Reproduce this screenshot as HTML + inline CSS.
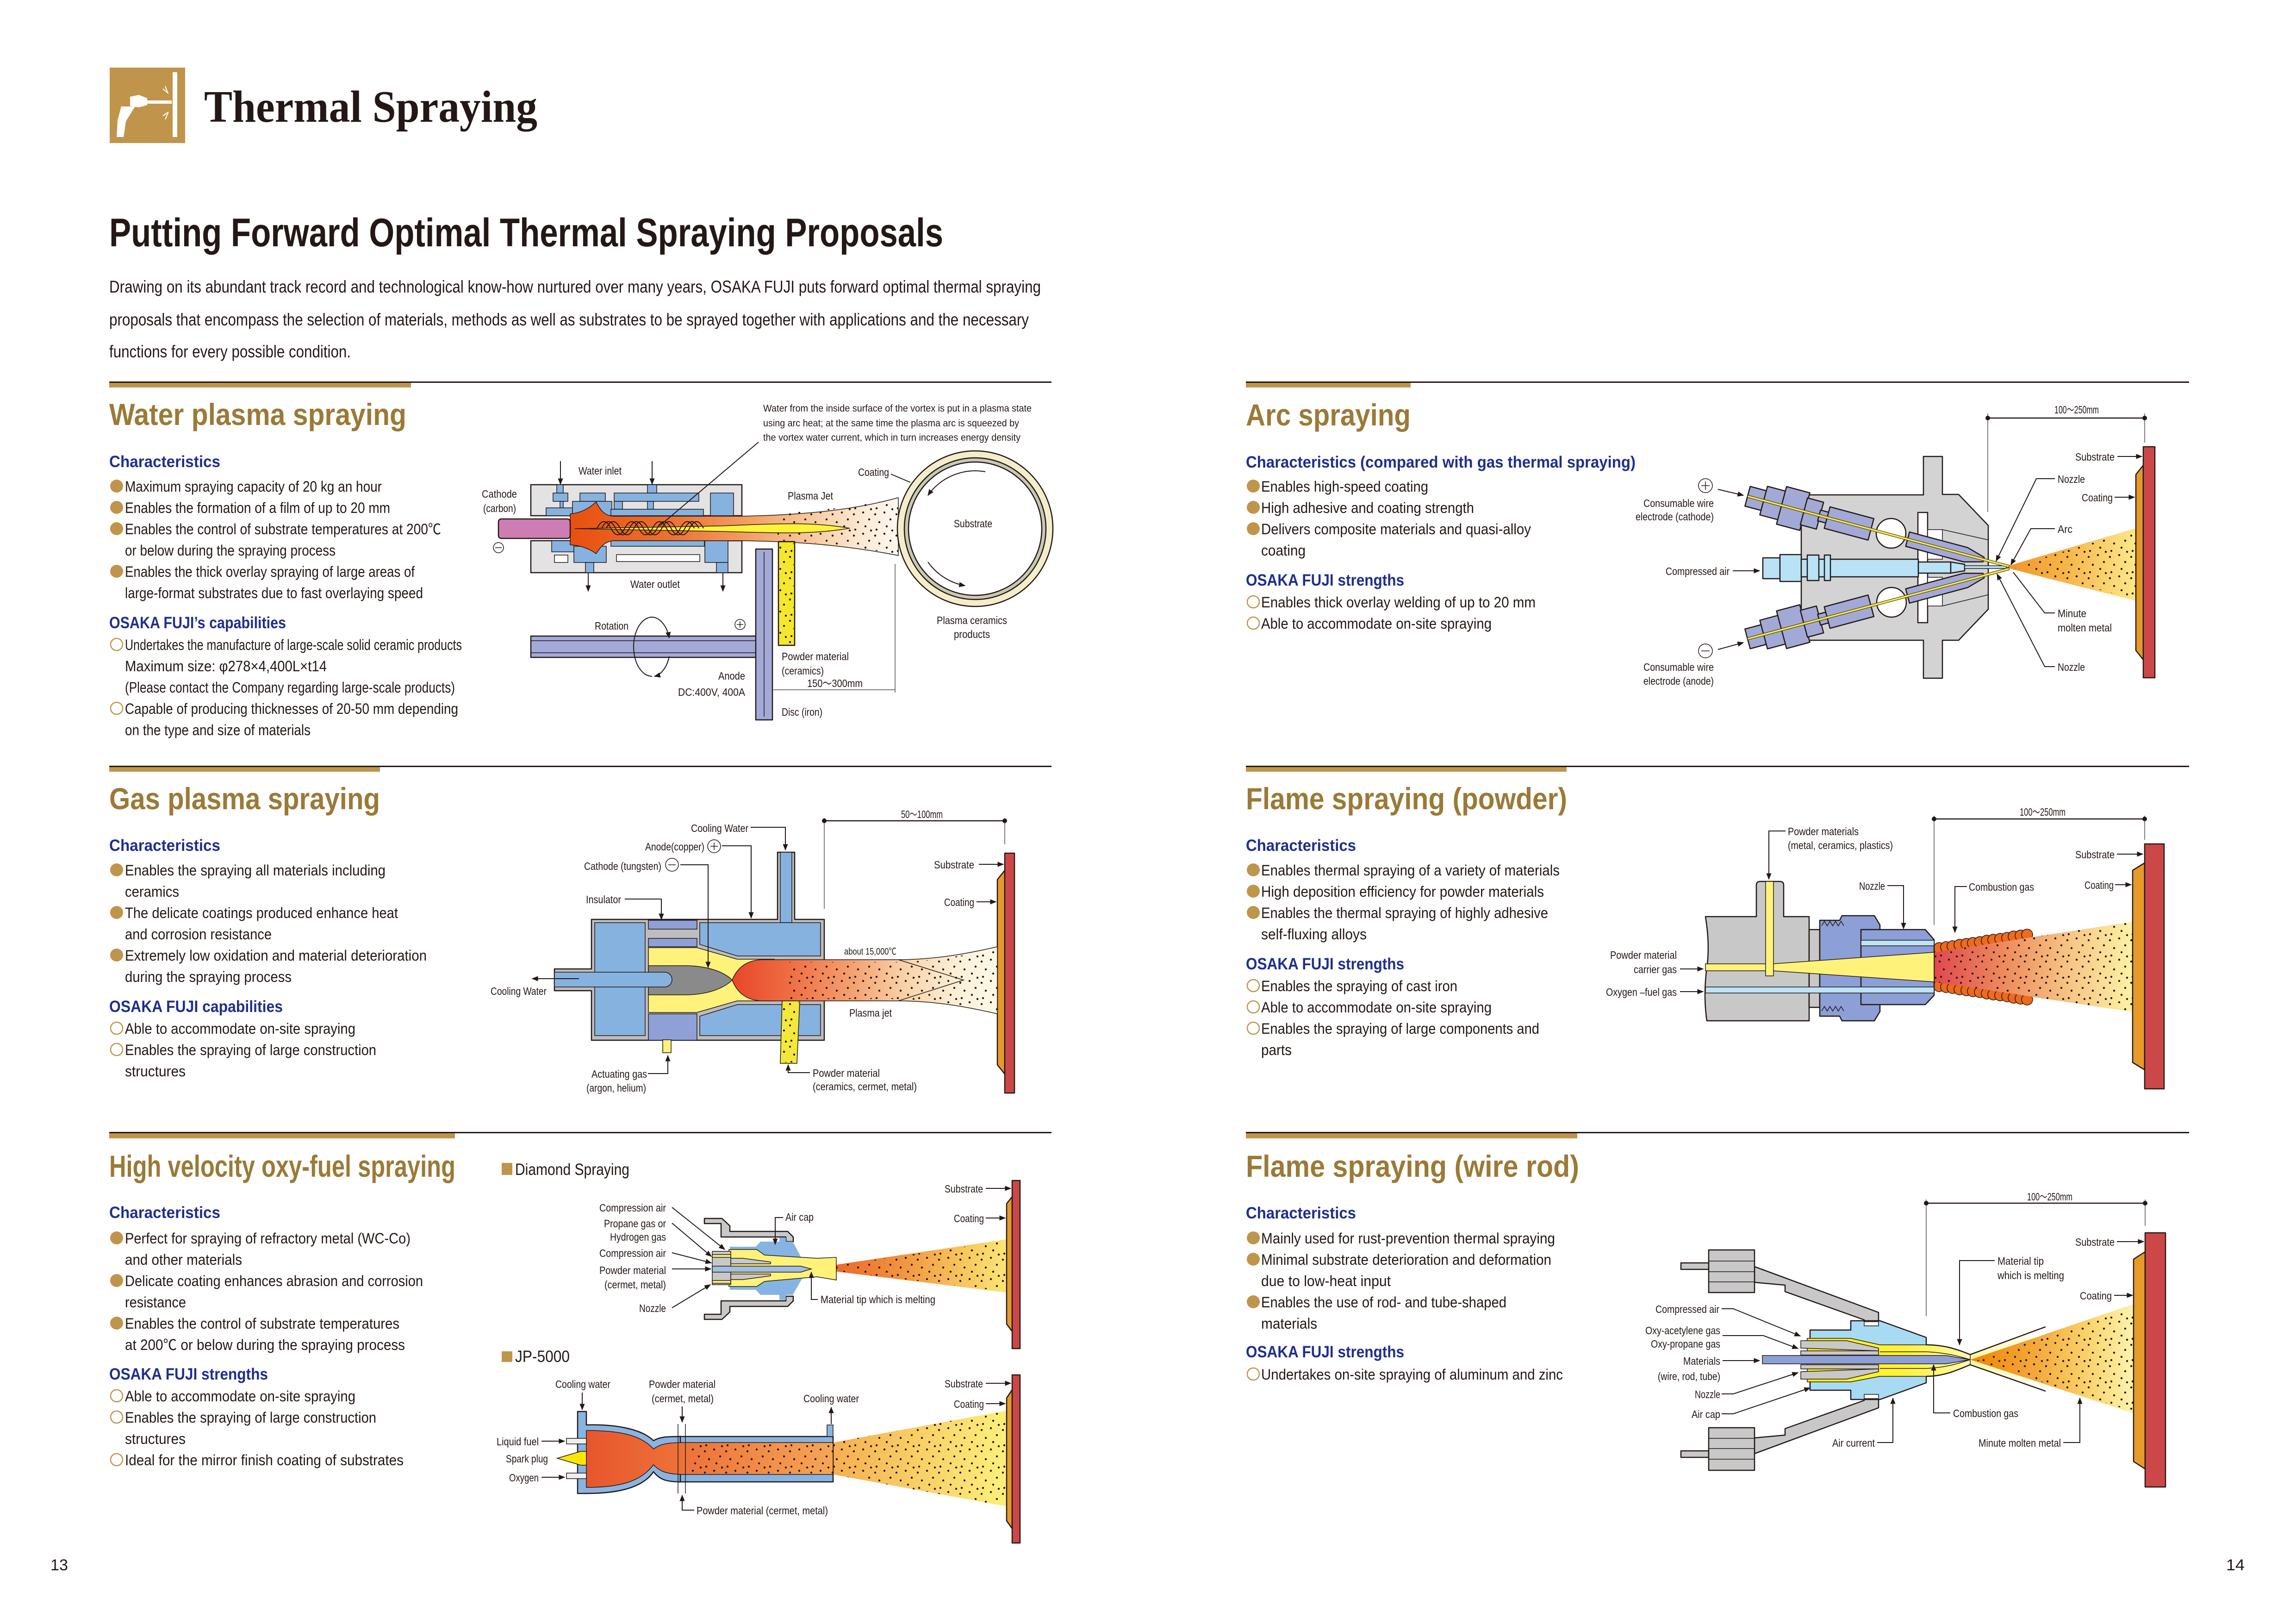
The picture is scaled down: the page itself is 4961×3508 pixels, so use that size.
<!DOCTYPE html>
<html><head><meta charset="utf-8"><style>
html,body{margin:0;padding:0;background:#fff;}
svg{display:block}
text{font-family:"Liberation Sans","Noto Sans CJK JP",sans-serif;fill:#231815}
.b{font-size:32px}
.h{font-size:66px;font-weight:bold;fill:#9b7a37}
.s{font-size:35px;font-weight:bold;fill:#1f2f8c}
.l{font-size:23px}
.ln{stroke:#231815;stroke-width:2;fill:none}
.dm{stroke:#555;stroke-width:1.5;fill:none}
.o{stroke:#231815;stroke-width:2.5;stroke-linejoin:round}
.t{stroke:#231815;stroke-width:1.5}
.fb{fill:#c0954b}
.hb{fill:none;stroke:#c0954b;stroke-width:2.5}
</style></head><body>
<svg width="4961" height="3508" viewBox="0 0 4961 3508" xmlns="http://www.w3.org/2000/svg">
<defs>
<marker id="a" viewBox="0 0 10 10" refX="9" refY="5" markerWidth="14" markerHeight="14" markerUnits="userSpaceOnUse" orient="auto"><path d="M0,1 L10,5 L0,9 z" fill="#231815"/></marker>
<pattern id="dt" width="46" height="46" patternUnits="userSpaceOnUse"><g fill="#231815"><circle cx="5" cy="7" r="2.2"/><circle cx="25" cy="3" r="2.2"/><circle cx="38" cy="18" r="2.2"/><circle cx="14" cy="24" r="2.2"/><circle cx="30" cy="33" r="2.2"/><circle cx="8" cy="40" r="2.2"/><circle cx="42" cy="42" r="2.2"/></g></pattern>
<linearGradient id="gWP" gradientUnits="userSpaceOnUse" x1="1232" y1="0" x2="1941" y2="0"><stop offset="0" stop-color="#e8500e"/><stop offset=".3" stop-color="#ec7030"/><stop offset=".55" stop-color="#f2a066"/><stop offset=".75" stop-color="#f8cda4"/><stop offset=".9" stop-color="#fdebd8"/><stop offset="1" stop-color="#fff8f0"/></linearGradient>
<linearGradient id="gGP" gradientUnits="userSpaceOnUse" x1="1582" y1="0" x2="2155" y2="0"><stop offset="0" stop-color="#e8462a"/><stop offset=".2" stop-color="#ee6a40"/><stop offset=".45" stop-color="#f4a070"/><stop offset=".65" stop-color="#f9d2a8"/><stop offset=".85" stop-color="#fdf0d8"/><stop offset="1" stop-color="#fdf8e8"/></linearGradient>
<linearGradient id="gArc" gradientUnits="userSpaceOnUse" x1="4330" y1="0" x2="4615" y2="0"><stop offset="0" stop-color="#f09328"/><stop offset=".45" stop-color="#f6b445"/><stop offset="1" stop-color="#fde88a"/></linearGradient>
<linearGradient id="gFP" gradientUnits="userSpaceOnUse" x1="4179" y1="0" x2="4608" y2="0"><stop offset="0" stop-color="#e04850"/><stop offset=".35" stop-color="#ee8a5c"/><stop offset=".65" stop-color="#f6c080"/><stop offset="1" stop-color="#fdf2a6"/></linearGradient>
<linearGradient id="gDia" gradientUnits="userSpaceOnUse" x1="1753" y1="0" x2="2175" y2="0"><stop offset="0" stop-color="#ea5a26"/><stop offset=".4" stop-color="#f08a3a"/><stop offset=".75" stop-color="#f7c25a"/><stop offset="1" stop-color="#fbe676"/></linearGradient>
<linearGradient id="gJPb" gradientUnits="userSpaceOnUse" x1="1267" y1="0" x2="1800" y2="0"><stop offset="0" stop-color="#e8562c"/><stop offset=".5" stop-color="#ee7a3e"/><stop offset="1" stop-color="#f5a656"/></linearGradient>
<linearGradient id="gJPc" gradientUnits="userSpaceOnUse" x1="1800" y1="0" x2="2175" y2="0"><stop offset="0" stop-color="#f6ae52"/><stop offset=".5" stop-color="#f9d066"/><stop offset="1" stop-color="#fdf07c"/></linearGradient>
<linearGradient id="gWR" gradientUnits="userSpaceOnUse" x1="4257" y1="0" x2="4610" y2="0"><stop offset="0" stop-color="#ef8400"/><stop offset=".4" stop-color="#f4a83a"/><stop offset=".75" stop-color="#fad770"/><stop offset="1" stop-color="#fdf3b0"/></linearGradient>
<linearGradient id="gWY" gradientUnits="userSpaceOnUse" x1="3905" y1="0" x2="4257" y2="0"><stop offset="0" stop-color="#fff200"/><stop offset=".6" stop-color="#fff23a"/><stop offset="1" stop-color="#fff8b0"/></linearGradient>
<linearGradient id="gPale" gradientUnits="userSpaceOnUse" x1="4257" y1="0" x2="4420" y2="0"><stop offset="0" stop-color="#fff6a0"/><stop offset="1" stop-color="#ffffff"/></linearGradient>
</defs>

<!-- HEADER -->
<rect x="237" y="146" width="163" height="163" fill="#c0954b"/>
<rect x="373" y="156" width="10" height="140" fill="#fff"/>
<polygon points="281,209 300,205 318,212 318,227 300,232 281,229" fill="#fff"/>
<rect x="318" y="217" width="53" height="7" fill="#fff"/>
<polygon points="262,230 292,230 272,262 267,296 252,296 254,260" fill="#fff"/>
<path d="M352,192 l12,10 M357,186 l6,16 M352,250 l12,-8 M357,258 l6,-14" stroke="#fff" stroke-width="2"/>
<text x="441" y="263" style="font-family:'Liberation Serif',serif;font-weight:bold;font-size:98px" textLength="720" lengthAdjust="spacingAndGlyphs">Thermal Spraying</text>
<text x="236" y="532" style="font-size:86px;font-weight:bold" textLength="1802" lengthAdjust="spacingAndGlyphs">Putting Forward Optimal Thermal Spraying Proposals</text>
<text x="236" y="632" style="font-size:37px" textLength="2013" lengthAdjust="spacingAndGlyphs">Drawing on its abundant track record and technological know-how nurtured over many years, OSAKA FUJI puts forward optimal thermal spraying</text>
<text x="236" y="703" style="font-size:37px" textLength="1987" lengthAdjust="spacingAndGlyphs">proposals that encompass the selection of materials, methods as well as substrates to be sprayed together with applications and the necessary</text>
<text x="236" y="772" style="font-size:37px" textLength="522" lengthAdjust="spacingAndGlyphs">functions for every possible condition.</text>

<!-- SECTION RULES -->
<rect x="236" y="824" width="2036" height="3" fill="#231815"/><rect x="236" y="827" width="652" height="10" fill="#c0954b"/>
<rect x="2692" y="824" width="2038" height="3" fill="#231815"/><rect x="2692" y="827" width="356" height="10" fill="#c0954b"/>
<rect x="236" y="1654" width="2036" height="3" fill="#231815"/><rect x="236" y="1657" width="585" height="10" fill="#c0954b"/>
<rect x="2692" y="1654" width="2038" height="3" fill="#231815"/><rect x="2692" y="1657" width="693" height="10" fill="#c0954b"/>
<rect x="236" y="2445" width="2036" height="3" fill="#231815"/><rect x="236" y="2448" width="747" height="11" fill="#c0954b"/>
<rect x="2692" y="2445" width="2038" height="3" fill="#231815"/><rect x="2692" y="2448" width="716" height="11" fill="#c0954b"/>

<!-- HEADINGS -->
<text class="h" x="236" y="918" textLength="642" lengthAdjust="spacingAndGlyphs">Water plasma spraying</text>
<text class="h" x="2692" y="919" textLength="356" lengthAdjust="spacingAndGlyphs">Arc spraying</text>
<text class="h" x="236" y="1748" textLength="585" lengthAdjust="spacingAndGlyphs">Gas plasma spraying</text>
<text class="h" x="2692" y="1748" textLength="694" lengthAdjust="spacingAndGlyphs">Flame spraying (powder)</text>
<text class="h" x="236" y="2542" textLength="748" lengthAdjust="spacingAndGlyphs">High velocity oxy-fuel spraying</text>
<text class="h" x="2692" y="2542" textLength="720" lengthAdjust="spacingAndGlyphs">Flame spraying (wire rod)</text>

<!-- WATER PLASMA TEXT -->
<text class="s" x="236" y="1009" textLength="240" lengthAdjust="spacingAndGlyphs">Characteristics</text>
<circle class="fb" cx="252" cy="1050" r="14"/><text class="b" x="270" y="1062" textLength="555" lengthAdjust="spacingAndGlyphs">Maximum spraying capacity of 20 kg an hour</text>
<circle class="fb" cx="252" cy="1096" r="14"/><text class="b" x="270" y="1108" textLength="573" lengthAdjust="spacingAndGlyphs">Enables the formation of a film of up to 20 mm</text>
<circle class="fb" cx="252" cy="1142" r="14"/><text class="b" x="270" y="1154" textLength="683" lengthAdjust="spacingAndGlyphs">Enables the control of substrate temperatures at 200℃</text>
<text class="b" x="270" y="1200" textLength="455" lengthAdjust="spacingAndGlyphs">or below during the spraying process</text>
<circle class="fb" cx="252" cy="1234" r="14"/><text class="b" x="270" y="1246" textLength="626" lengthAdjust="spacingAndGlyphs">Enables the thick overlay spraying of large areas of</text>
<text class="b" x="270" y="1292" textLength="644" lengthAdjust="spacingAndGlyphs">large-format substrates due to fast overlaying speed</text>
<text class="s" x="236" y="1357" textLength="382" lengthAdjust="spacingAndGlyphs">OSAKA FUJI’s capabilities</text>
<circle class="hb" cx="252" cy="1392" r="13"/><text class="b" x="270" y="1404" textLength="728" lengthAdjust="spacingAndGlyphs">Undertakes the manufacture of large-scale solid ceramic products</text>
<text class="b" x="270" y="1450" textLength="436" lengthAdjust="spacingAndGlyphs">Maximum size: φ278×4,400L×t14</text>
<text class="b" x="270" y="1496" textLength="713" lengthAdjust="spacingAndGlyphs">(Please contact the Company regarding large-scale products)</text>
<circle class="hb" cx="252" cy="1530" r="13"/><text class="b" x="270" y="1542" textLength="720" lengthAdjust="spacingAndGlyphs">Capable of producing thicknesses of 20-50 mm depending</text>
<text class="b" x="270" y="1588" textLength="401" lengthAdjust="spacingAndGlyphs">on the type and size of materials</text>

<!-- GAS PLASMA TEXT -->
<text class="s" x="236" y="1838" textLength="240" lengthAdjust="spacingAndGlyphs">Characteristics</text>
<circle class="fb" cx="252" cy="1879" r="14"/><text class="b" x="270" y="1891" textLength="563" lengthAdjust="spacingAndGlyphs">Enables the spraying all materials including</text>
<text class="b" x="270" y="1937" textLength="117" lengthAdjust="spacingAndGlyphs">ceramics</text>
<circle class="fb" cx="252" cy="1971" r="14"/><text class="b" x="270" y="1983" textLength="590" lengthAdjust="spacingAndGlyphs">The delicate coatings produced enhance heat</text>
<text class="b" x="270" y="2029" textLength="317" lengthAdjust="spacingAndGlyphs">and corrosion resistance</text>
<circle class="fb" cx="252" cy="2063" r="14"/><text class="b" x="270" y="2075" textLength="652" lengthAdjust="spacingAndGlyphs">Extremely low oxidation and material deterioration</text>
<text class="b" x="270" y="2121" textLength="360" lengthAdjust="spacingAndGlyphs">during the spraying process</text>
<text class="s" x="236" y="2186" textLength="375" lengthAdjust="spacingAndGlyphs">OSAKA FUJI capabilities</text>
<circle class="hb" cx="252" cy="2221" r="13"/><text class="b" x="270" y="2233" textLength="498" lengthAdjust="spacingAndGlyphs">Able to accommodate on-site spraying</text>
<circle class="hb" cx="252" cy="2267" r="13"/><text class="b" x="270" y="2279" textLength="543" lengthAdjust="spacingAndGlyphs">Enables the spraying of large construction</text>
<text class="b" x="270" y="2325" textLength="131" lengthAdjust="spacingAndGlyphs">structures</text>

<!-- HVOF TEXT -->
<text class="s" x="236" y="2631" textLength="240" lengthAdjust="spacingAndGlyphs">Characteristics</text>
<circle class="fb" cx="252" cy="2674" r="14"/><text class="b" x="270" y="2686" textLength="617" lengthAdjust="spacingAndGlyphs">Perfect for spraying of refractory metal (WC-Co)</text>
<text class="b" x="270" y="2732" textLength="253" lengthAdjust="spacingAndGlyphs">and other materials</text>
<circle class="fb" cx="252" cy="2766" r="14"/><text class="b" x="270" y="2778" textLength="644" lengthAdjust="spacingAndGlyphs">Delicate coating enhances abrasion and corrosion</text>
<text class="b" x="270" y="2824" textLength="132" lengthAdjust="spacingAndGlyphs">resistance</text>
<circle class="fb" cx="252" cy="2858" r="14"/><text class="b" x="270" y="2870" textLength="593" lengthAdjust="spacingAndGlyphs">Enables the control of substrate temperatures</text>
<text class="b" x="270" y="2916" textLength="605" lengthAdjust="spacingAndGlyphs">at 200℃ or below during the spraying process</text>
<text class="s" x="236" y="2980" textLength="343" lengthAdjust="spacingAndGlyphs">OSAKA FUJI strengths</text>
<circle class="hb" cx="252" cy="3015" r="13"/><text class="b" x="270" y="3027" textLength="498" lengthAdjust="spacingAndGlyphs">Able to accommodate on-site spraying</text>
<circle class="hb" cx="252" cy="3061" r="13"/><text class="b" x="270" y="3073" textLength="543" lengthAdjust="spacingAndGlyphs">Enables the spraying of large construction</text>
<text class="b" x="270" y="3119" textLength="131" lengthAdjust="spacingAndGlyphs">structures</text>
<circle class="hb" cx="252" cy="3153" r="13"/><text class="b" x="270" y="3165" textLength="602" lengthAdjust="spacingAndGlyphs">Ideal for the mirror finish coating of substrates</text>

<!-- ARC TEXT -->
<text class="s" x="2692" y="1010" textLength="842" lengthAdjust="spacingAndGlyphs">Characteristics (compared with gas thermal spraying)</text>
<circle class="fb" cx="2708" cy="1050" r="14"/><text class="b" x="2725" y="1062" textLength="361" lengthAdjust="spacingAndGlyphs">Enables high-speed coating</text>
<circle class="fb" cx="2708" cy="1096" r="14"/><text class="b" x="2725" y="1108" textLength="460" lengthAdjust="spacingAndGlyphs">High adhesive and coating strength</text>
<circle class="fb" cx="2708" cy="1142" r="14"/><text class="b" x="2725" y="1154" textLength="583" lengthAdjust="spacingAndGlyphs">Delivers composite materials and quasi-alloy</text>
<text class="b" x="2725" y="1200" textLength="96" lengthAdjust="spacingAndGlyphs">coating</text>
<text class="s" x="2692" y="1265" textLength="342" lengthAdjust="spacingAndGlyphs">OSAKA FUJI strengths</text>
<circle class="hb" cx="2708" cy="1300" r="13"/><text class="b" x="2725" y="1312" textLength="593" lengthAdjust="spacingAndGlyphs">Enables thick overlay welding of up to 20 mm</text>
<circle class="hb" cx="2708" cy="1346" r="13"/><text class="b" x="2725" y="1358" textLength="498" lengthAdjust="spacingAndGlyphs">Able to accommodate on-site spraying</text>

<!-- FLAME POWDER TEXT -->
<text class="s" x="2692" y="1838" textLength="238" lengthAdjust="spacingAndGlyphs">Characteristics</text>
<circle class="fb" cx="2708" cy="1879" r="14"/><text class="b" x="2725" y="1891" textLength="645" lengthAdjust="spacingAndGlyphs">Enables thermal spraying of a variety of materials</text>
<circle class="fb" cx="2708" cy="1925" r="14"/><text class="b" x="2725" y="1937" textLength="611" lengthAdjust="spacingAndGlyphs">High deposition efficiency for powder materials</text>
<circle class="fb" cx="2708" cy="1971" r="14"/><text class="b" x="2725" y="1983" textLength="620" lengthAdjust="spacingAndGlyphs">Enables the thermal spraying of highly adhesive</text>
<text class="b" x="2725" y="2029" textLength="228" lengthAdjust="spacingAndGlyphs">self-fluxing alloys</text>
<text class="s" x="2692" y="2094" textLength="342" lengthAdjust="spacingAndGlyphs">OSAKA FUJI strengths</text>
<circle class="hb" cx="2708" cy="2129" r="13"/><text class="b" x="2725" y="2141" textLength="424" lengthAdjust="spacingAndGlyphs">Enables the spraying of cast iron</text>
<circle class="hb" cx="2708" cy="2175" r="13"/><text class="b" x="2725" y="2187" textLength="498" lengthAdjust="spacingAndGlyphs">Able to accommodate on-site spraying</text>
<circle class="hb" cx="2708" cy="2221" r="13"/><text class="b" x="2725" y="2233" textLength="601" lengthAdjust="spacingAndGlyphs">Enables the spraying of large components and</text>
<text class="b" x="2725" y="2279" textLength="66" lengthAdjust="spacingAndGlyphs">parts</text>

<!-- FLAME WIRE TEXT -->
<text class="s" x="2692" y="2632" textLength="238" lengthAdjust="spacingAndGlyphs">Characteristics</text>
<circle class="fb" cx="2708" cy="2674" r="14"/><text class="b" x="2725" y="2686" textLength="635" lengthAdjust="spacingAndGlyphs">Mainly used for rust-prevention thermal spraying</text>
<circle class="fb" cx="2708" cy="2720" r="14"/><text class="b" x="2725" y="2732" textLength="627" lengthAdjust="spacingAndGlyphs">Minimal substrate deterioration and deformation</text>
<text class="b" x="2725" y="2778" textLength="280" lengthAdjust="spacingAndGlyphs">due to low-heat input</text>
<circle class="fb" cx="2708" cy="2812" r="14"/><text class="b" x="2725" y="2824" textLength="530" lengthAdjust="spacingAndGlyphs">Enables the use of rod- and tube-shaped</text>
<text class="b" x="2725" y="2870" textLength="121" lengthAdjust="spacingAndGlyphs">materials</text>
<text class="s" x="2692" y="2932" textLength="342" lengthAdjust="spacingAndGlyphs">OSAKA FUJI strengths</text>
<circle class="hb" cx="2708" cy="2968" r="13"/><text class="b" x="2725" y="2980" textLength="652" lengthAdjust="spacingAndGlyphs">Undertakes on-site spraying of aluminum and zinc</text>

<!-- ================= WATER PLASMA DIAGRAM ================= -->
<g class="o"><rect x="1147" y="1047" width="456" height="67" fill="#e3e3e3"/><rect x="1147" y="1168" width="456" height="69" fill="#e3e3e3"/></g>
<g class="t" fill="#86b2df">
<rect x="1203" y="1047" width="14" height="18"/><rect x="1195" y="1065" width="32" height="18"/><rect x="1210" y="1083" width="7" height="14"/><rect x="1180" y="1097" width="57" height="17"/>
<rect x="1253" y="1065" width="55" height="18"/><rect x="1237" y="1083" width="85" height="31"/><rect x="1327" y="1065" width="183" height="18"/>
<rect x="1399" y="1047" width="20" height="18"/><rect x="1399" y="1083" width="13" height="17"/><rect x="1327" y="1083" width="18" height="17"/>
<rect x="1320" y="1100" width="200" height="14"/><rect x="1535" y="1065" width="50" height="49"/>
<rect x="1192" y="1168" width="48" height="24"/><rect x="1240" y="1180" width="70" height="35"/><rect x="1265" y="1215" width="18" height="22"/>
<rect x="1320" y="1168" width="202" height="12"/><rect x="1523" y="1168" width="50" height="47"/><rect x="1548" y="1215" width="25" height="22"/>
</g>
<rect class="t" x="1332" y="1198" width="180" height="15" fill="#fff"/><rect class="t" x="1198" y="1199" width="29" height="16" fill="#fff"/>
<path d="M1232,1110 C1260,1108 1280,1092 1288,1084 C1296,1100 1305,1114 1325,1115 L1603,1115 C1750,1112 1850,1100 1941,1075 L1941,1200 C1850,1182 1750,1170 1603,1168 L1325,1168 C1305,1170 1296,1184 1288,1196 C1280,1190 1260,1178 1232,1177 Z" fill="url(#gWP)" class="t"/>
<path d="M1680,1110 C1800,1100 1880,1090 1941,1075 L1941,1200 C1880,1185 1800,1172 1680,1168 Z" fill="url(#dt)"/>
<rect class="o" x="1682" y="1170" width="35" height="224" fill="#f5e82a"/>
<rect x="1684" y="1172" width="31" height="220" fill="url(#dt)"/>
<rect class="o" x="1077" y="1121" width="155" height="42" rx="6" fill="#cd7db4"/>
<path d="M1242,1142 L1560,1136 C1700,1130 1760,1128 1836,1141 C1760,1154 1700,1152 1560,1148 Z" fill="#fff23a" class="t"/>
<g fill="none" stroke="#231815" stroke-width="2">
<path d="M1290,1141 C1300,1122 1310,1122 1320,1141 S1340,1160 1350,1141 S1370,1122 1380,1141 S1400,1160 1410,1141 S1430,1122 1440,1141 S1460,1160 1470,1141 S1490,1122 1500,1141"/>
<path transform="translate(10,0)" d="M1290,1141 C1300,1122 1310,1122 1320,1141 S1340,1160 1350,1141 S1370,1122 1380,1141 S1400,1160 1410,1141 S1430,1122 1440,1141 S1460,1160 1470,1141 S1490,1122 1500,1141"/>
<path transform="translate(20,0)" d="M1290,1141 C1300,1122 1310,1122 1320,1141 S1340,1160 1350,1141 S1370,1122 1380,1141 S1400,1160 1410,1141 S1430,1122 1440,1141 S1460,1160 1470,1141 S1490,1122 1500,1141"/>
</g>
<circle class="o" cx="2107" cy="1142" r="168" fill="#f3edc9"/>
<circle class="o" cx="2107" cy="1142" r="153" fill="#c9c7b6"/>
<circle class="o" cx="2107" cy="1142" r="144" fill="#fff"/>
<path class="ln" d="M2129,1019 A125,125 0 0 0 2005,1070" marker-end="url(#a)"/>
<path class="ln" d="M2005,1214 A125,125 0 0 0 2085,1265" marker-end="url(#a)"/>
<rect class="o" x="1147" y="1374" width="493" height="46" fill="#a3aad8"/>
<path class="t" d="M1147,1384 L1640,1384 M1147,1410 L1640,1410" fill="none"/>
<rect class="o" x="1633" y="1186" width="36" height="369" fill="#a3aad8"/>
<path class="t" d="M1651,1192 L1651,1548" fill="none"/>
<path class="ln" d="M1409,1461 A40,64 0 0 1 1409,1333 A40,64 0 0 1 1446,1378" marker-end="url(#a)"/>
<path class="ln" d="M1446,1418 A40,64 0 0 1 1414,1461" marker-end="url(#a)"/>
<path class="ln" d="M1211,996 L1211,1046" marker-end="url(#a)"/>
<path class="ln" d="M1409,996 L1409,1046" marker-end="url(#a)"/>
<path class="ln" d="M1271,1237 L1271,1277" marker-end="url(#a)"/>
<path class="ln" d="M1562,1237 L1562,1277" marker-end="url(#a)"/>
<path class="ln" d="M1639,955 L1425,1136" stroke-width="1.5"/>
<path class="ln" d="M1925,1024 L1967,1042" stroke-width="1.5"/>
<path class="dm" d="M1934,1218 L1934,1496 M1669,1490 L1934,1490"/>
<circle cx="1077" cy="1183" r="11" fill="#fff" class="t"/><path class="t" d="M1070,1183 L1084,1183"/>
<circle cx="1599" cy="1349" r="11" fill="#fff" class="t"/><path class="t" d="M1592,1349 L1606,1349 M1599,1342 L1599,1356"/>
<text class="l" x="1250" y="1025" textLength="93" lengthAdjust="spacingAndGlyphs">Water inlet</text>
<text class="l" x="1041" y="1075" textLength="76" lengthAdjust="spacingAndGlyphs">Cathode</text>
<text class="l" x="1044" y="1106" textLength="71" lengthAdjust="spacingAndGlyphs">(carbon)</text>
<text class="l" x="1362" y="1270" textLength="107" lengthAdjust="spacingAndGlyphs">Water outlet</text>
<text class="l" x="1702" y="1079" textLength="98" lengthAdjust="spacingAndGlyphs">Plasma Jet</text>
<text class="l" x="1854" y="1028" textLength="67" lengthAdjust="spacingAndGlyphs">Coating</text>
<text class="l" x="2061" y="1139" textLength="83" lengthAdjust="spacingAndGlyphs">Substrate</text>
<text class="l" x="2024" y="1348" textLength="152" lengthAdjust="spacingAndGlyphs">Plasma ceramics</text>
<text class="l" x="2061" y="1378" textLength="78" lengthAdjust="spacingAndGlyphs">products</text>
<text class="l" x="1285" y="1360" textLength="73" lengthAdjust="spacingAndGlyphs">Rotation</text>
<text class="l" x="1689" y="1426" textLength="145" lengthAdjust="spacingAndGlyphs">Powder material</text>
<text class="l" x="1689" y="1457" textLength="91" lengthAdjust="spacingAndGlyphs">(ceramics)</text>
<text class="l" x="1744" y="1484" textLength="120" lengthAdjust="spacingAndGlyphs">150～300mm</text>
<text class="l" x="1552" y="1468" textLength="58" lengthAdjust="spacingAndGlyphs">Anode</text>
<text class="l" x="1465" y="1503" textLength="145" lengthAdjust="spacingAndGlyphs">DC:400V, 400A</text>
<text class="l" x="1689" y="1546" textLength="88" lengthAdjust="spacingAndGlyphs">Disc (iron)</text>
<text class="l" style="font-size:21px" x="1649" y="889" textLength="580" lengthAdjust="spacingAndGlyphs">Water from the inside surface of the vortex is put in a plasma state</text>
<text class="l" style="font-size:21px" x="1649" y="921" textLength="553" lengthAdjust="spacingAndGlyphs">using arc heat; at the same time the plasma arc is squeezed by</text>
<text class="l" style="font-size:21px" x="1649" y="952" textLength="556" lengthAdjust="spacingAndGlyphs">the vortex water current, which in turn increases energy density</text>

<!-- ================= ARC DIAGRAM ================= -->
<path class="dm" d="M4295,893 L4295,1106 M4634,893 L4634,956"/>
<path d="M4295,903 L4634,903" stroke="#231815" stroke-width="2.5"/>
<circle cx="4295" cy="903" r="5" fill="#231815"/><circle cx="4634" cy="903" r="5" fill="#231815"/>
<polygon points="4330,1225 4615,1141 4615,1298" fill="url(#gArc)"/>
<polygon points="4345,1225 4615,1145 4615,1294" fill="url(#dt)"/>
<polygon class="o" points="4615,1025 4631,1005 4631,1425 4615,1405" fill="#e69a2a"/>
<rect class="o" x="4631" y="965" width="25" height="499" fill="#cc4848"/>
<polygon class="o" fill="#d3d3d3" points="3892,1069 4156,1069 4156,986 4197,986 4197,1068 4232,1068 4296,1135 4296,1316 4232,1383 4197,1383 4197,1465 4156,1465 4156,1383 3892,1383"/>
<circle class="o" cx="4086" cy="1152" r="32" fill="#fff"/>
<circle class="o" cx="4087" cy="1301" r="32" fill="#fff"/>
<rect class="o" x="4144" y="1107" width="21" height="238" fill="#fff"/>
<rect class="t" x="4165" y="1144" width="32" height="64" fill="#fff"/>
<rect class="t" x="4165" y="1247" width="32" height="62" fill="#fff"/>
<path class="t" fill="none" d="M4197,1144 L4295,1166 M4197,1309 L4295,1285"/>
<g class="o" fill="#b9e2f6">
<rect x="3809" y="1205" width="37" height="45"/><rect x="3846" y="1198" width="46" height="58"/><rect x="3892" y="1208" width="253" height="38"/>
<rect x="3905" y="1199" width="25" height="55"/><rect x="3942" y="1199" width="13" height="55"/>
<rect x="4145" y="1214" width="70" height="24"/><polygon points="4215,1214 4245,1219 4245,1233 4215,1238"/>
<rect x="4245" y="1222" width="90" height="6" stroke-width="1.5"/>
</g>
<g transform="translate(3776,1072) rotate(15)" class="o" fill="#a3a9d6">
<rect x="0" y="-22" width="38" height="44"/><rect x="36" y="-32" width="42" height="64"/><rect x="76" y="-42" width="52" height="84"/><rect x="126" y="-30" width="36" height="60"/><rect x="160" y="-12" width="20" height="24"/><rect x="178" y="-24" width="98" height="48"/>
<polygon points="358,-16 488,-16 528,-5 528,5 488,16 358,16"/>
<rect x="0" y="-2.5" width="585" height="5" fill="#f5e63c" stroke-width="1"/>
</g>
<g transform="translate(3776,1380) rotate(-15)" class="o" fill="#a3a9d6">
<rect x="0" y="-22" width="38" height="44"/><rect x="36" y="-32" width="42" height="64"/><rect x="76" y="-42" width="52" height="84"/><rect x="126" y="-30" width="36" height="60"/><rect x="160" y="-12" width="20" height="24"/><rect x="178" y="-24" width="98" height="48"/>
<polygon points="358,-16 488,-16 528,-5 528,5 488,16 358,16"/>
<rect x="0" y="-2.5" width="585" height="5" fill="#f5e63c" stroke-width="1"/>
</g>
<path class="ln" d="M3712,1057 L3767,1070" marker-end="url(#a)"/>
<path class="ln" d="M3712,1403 L3767,1388" marker-end="url(#a)"/>
<path class="ln" d="M3744,1233 L3802,1233" marker-end="url(#a)"/>
<path class="ln" d="M4575,986 L4628,986" marker-end="url(#a)"/>
<path class="ln" d="M4569,1074 L4612,1074" marker-end="url(#a)"/>
<path class="ln" stroke-width="1.5" d="M4440,1034 L4400,1034 L4313,1212" marker-end="url(#a)"/>
<path class="ln" stroke-width="1.5" d="M4440,1142 L4388,1142 L4345,1220" marker-end="url(#a)"/>
<path class="ln" stroke-width="1.5" d="M4440,1324 L4418,1324 L4350,1236"/>
<path class="ln" stroke-width="1.5" d="M4440,1440 L4418,1440 L4315,1240" marker-end="url(#a)"/>
<circle cx="3685" cy="1049" r="15" fill="#fff" class="t"/><path class="t" d="M3676,1049 L3694,1049 M3685,1040 L3685,1058"/>
<circle cx="3685" cy="1406" r="15" fill="#fff" class="t"/><path class="t" d="M3676,1406 L3694,1406"/>
<text class="l" x="4439" y="893" textLength="96" lengthAdjust="spacingAndGlyphs">100～250mm</text>
<text class="l" x="4484" y="995" textLength="85" lengthAdjust="spacingAndGlyphs">Substrate</text>
<text class="l" x="4446" y="1043" textLength="59" lengthAdjust="spacingAndGlyphs">Nozzle</text>
<text class="l" x="4498" y="1083" textLength="67" lengthAdjust="spacingAndGlyphs">Coating</text>
<text class="l" x="4446" y="1151" textLength="32" lengthAdjust="spacingAndGlyphs">Arc</text>
<text class="l" x="4446" y="1333" textLength="62" lengthAdjust="spacingAndGlyphs">Minute</text>
<text class="l" x="4446" y="1364" textLength="117" lengthAdjust="spacingAndGlyphs">molten metal</text>
<text class="l" x="4446" y="1449" textLength="59" lengthAdjust="spacingAndGlyphs">Nozzle</text>
<text class="l" x="3551" y="1095" textLength="152" lengthAdjust="spacingAndGlyphs">Consumable wire</text>
<text class="l" x="3534" y="1124" textLength="169" lengthAdjust="spacingAndGlyphs">electrode (cathode)</text>
<text class="l" x="3551" y="1449" textLength="152" lengthAdjust="spacingAndGlyphs">Consumable wire</text>
<text class="l" x="3551" y="1479" textLength="152" lengthAdjust="spacingAndGlyphs">electrode (anode)</text>
<text class="l" x="3599" y="1242" textLength="138" lengthAdjust="spacingAndGlyphs">Compressed air</text>

<!-- ================= GAS PLASMA DIAGRAM ================= -->
<path class="dm" d="M1781,1767 L1781,1963 M2171,1767 L2171,1824"/>
<path d="M1781,1773 L2171,1773" stroke="#231815" stroke-width="2.5"/>
<circle cx="1781" cy="1773" r="5" fill="#231815"/><circle cx="2171" cy="1773" r="5" fill="#231815"/>
<polygon class="o" points="2155,1900 2171,1880 2171,2320 2155,2300" fill="#e69a2a"/>
<rect class="o" x="2171" y="1843" width="21" height="518" fill="#cc4848"/>
<polygon class="o" fill="#bdbdbd" points="1278,1986 1680,1986 1680,1841 1717,1841 1717,1986 1781,1986 1781,2247 1278,2247 1278,2140 1198,2140 1198,2093 1278,2093"/>
<g fill="#86b2df" class="t">
<rect x="1285" y="1993" width="109" height="244"/>
<rect x="1686" y="1841" width="25" height="152"/>
<polygon points="1512,1993 1773,1993 1773,2065 1593,2065 1512,2040"/>
<polygon points="1512,2237 1773,2237 1773,2170 1593,2170 1512,2195"/>
</g>
<g fill="#8ea0d6" class="t"><rect x="1401" y="1988" width="105" height="19"/><rect x="1401" y="2027" width="105" height="18"/><rect x="1401" y="2190" width="105" height="57"/></g>
<polygon class="t" fill="#fff27a" points="1401,2047 1506,2047 1593,2072 1673,2072 1673,2162 1593,2162 1506,2187 1401,2187"/>
<path class="t" d="M1582,2117 C1595,2085 1620,2073 1650,2073 L1941,2073 C2020,2073 2090,2060 2155,2045 L2155,2190 C2090,2175 2020,2162 1941,2162 L1650,2162 C1620,2162 1595,2150 1582,2117 Z" fill="url(#gGP)"/>
<path d="M1700,2078 L1941,2078 C2020,2076 2090,2062 2155,2050 L2155,2186 C2090,2172 2020,2160 1941,2158 L1700,2158 Z" fill="url(#dt)"/>
<path class="t" fill="none" d="M1941,2073 L2082,2117 L1941,2162"/>
<path class="t" d="M1401,2086 L1480,2086 C1530,2086 1565,2100 1582,2117 C1565,2134 1530,2149 1480,2149 L1401,2149 Z" fill="#8a8a8a"/>
<path class="t" d="M1198,2100 L1436,2100 A16,16 0 0 1 1436,2132 L1198,2132 Z" fill="#86b2df"/>
<rect class="t" x="1432" y="2246" width="18" height="28" fill="#fff27a"/>
<polygon class="t" points="1690,2162 1728,2162 1722,2297 1686,2297" fill="#f4e83a"/>
<polygon points="1692,2164 1726,2164 1720,2295 1688,2295" fill="url(#dt)"/>
<path class="ln" stroke-width="1.5" d="M1622,1787 L1697,1787 L1697,1836" marker-end="url(#a)"/>
<path class="ln" stroke-width="1.5" d="M1560,1827 L1623,1827 L1623,1983" marker-end="url(#a)"/>
<path class="ln" stroke-width="1.5" d="M1470,1868 L1530,1868 L1530,2090" marker-end="url(#a)"/>
<path class="ln" stroke-width="1.5" d="M1350,1942 L1429,1942 L1429,1986" marker-end="url(#a)"/>
<path class="ln" d="M1251,2114 L1150,2114" marker-end="url(#a)"/>
<path class="ln" d="M2115,1867 L2168,1867" marker-end="url(#a)"/>
<path class="ln" d="M2110,1948 L2152,1948" marker-end="url(#a)"/>
<path class="ln" stroke-width="1.5" d="M1400,2319 L1443,2319 L1443,2280" marker-end="url(#a)"/>
<path class="ln" stroke-width="1.5" d="M1750,2317 L1703,2317 L1703,2300" marker-end="url(#a)"/>
<circle cx="1543" cy="1828" r="14" fill="#fff" class="t"/><path class="t" d="M1535,1828 L1551,1828 M1543,1820 L1543,1836"/>
<circle cx="1452" cy="1868" r="14" fill="#fff" class="t"/><path class="t" d="M1444,1868 L1460,1868"/>
<text class="l" x="1947" y="1767" textLength="90" lengthAdjust="spacingAndGlyphs">50～100mm</text>
<text class="l" x="1493" y="1797" textLength="124" lengthAdjust="spacingAndGlyphs">Cooling Water</text>
<text class="l" x="1394" y="1837" textLength="128" lengthAdjust="spacingAndGlyphs">Anode(copper)</text>
<text class="l" x="1262" y="1879" textLength="167" lengthAdjust="spacingAndGlyphs">Cathode (tungsten)</text>
<text class="l" x="1266" y="1951" textLength="76" lengthAdjust="spacingAndGlyphs">Insulator</text>
<text class="l" x="2018" y="1876" textLength="87" lengthAdjust="spacingAndGlyphs">Substrate</text>
<text class="l" x="2040" y="1957" textLength="65" lengthAdjust="spacingAndGlyphs">Coating</text>
<text class="l" style="font-size:20px" x="1824" y="2062" textLength="113" lengthAdjust="spacingAndGlyphs">about 15,000℃</text>
<text class="l" x="1060" y="2149" textLength="121" lengthAdjust="spacingAndGlyphs">Cooling Water</text>
<text class="l" x="1835" y="2196" textLength="92" lengthAdjust="spacingAndGlyphs">Plasma jet</text>
<text class="l" x="1278" y="2328" textLength="120" lengthAdjust="spacingAndGlyphs">Actuating gas</text>
<text class="l" x="1267" y="2358" textLength="129" lengthAdjust="spacingAndGlyphs">(argon, helium)</text>
<text class="l" x="1756" y="2326" textLength="145" lengthAdjust="spacingAndGlyphs">Powder material</text>
<text class="l" x="1756" y="2355" textLength="225" lengthAdjust="spacingAndGlyphs">(ceramics, cermet, metal)</text>

<!-- ================= FLAME POWDER DIAGRAM ================= -->
<path class="dm" d="M4179,1762 L4179,1998 M4634,1762 L4634,1814"/>
<path d="M4179,1769 L4634,1769" stroke="#231815" stroke-width="2.5"/>
<circle cx="4179" cy="1769" r="5" fill="#231815"/><circle cx="4634" cy="1769" r="5" fill="#231815"/>
<g fill="#ee6a1c" class="t">
<circle cx="4190" cy="2048" r="12"/><circle cx="4205" cy="2046" r="12"/><circle cx="4219" cy="2044" r="12"/><circle cx="4234" cy="2041" r="12"/><circle cx="4249" cy="2039" r="12"/><circle cx="4263" cy="2037" r="12"/><circle cx="4278" cy="2035" r="12"/><circle cx="4293" cy="2032" r="12"/><circle cx="4307" cy="2030" r="12"/><circle cx="4322" cy="2028" r="12"/><circle cx="4337" cy="2026" r="12"/><circle cx="4351" cy="2023" r="12"/><circle cx="4366" cy="2021" r="12"/><circle cx="4380" cy="2019" r="12"/>
<circle cx="4190" cy="2130" r="12"/><circle cx="4205" cy="2132" r="12"/><circle cx="4219" cy="2134" r="12"/><circle cx="4234" cy="2137" r="12"/><circle cx="4249" cy="2139" r="12"/><circle cx="4263" cy="2141" r="12"/><circle cx="4278" cy="2143" r="12"/><circle cx="4293" cy="2146" r="12"/><circle cx="4307" cy="2148" r="12"/><circle cx="4322" cy="2150" r="12"/><circle cx="4337" cy="2152" r="12"/><circle cx="4351" cy="2155" r="12"/><circle cx="4366" cy="2157" r="12"/><circle cx="4380" cy="2159" r="12"/>
</g>
<polygon points="4179,2057 4608,1991 4608,2186 4179,2121" fill="url(#gFP)"/>
<polygon points="4179,2057 4608,1991 4608,2186 4179,2121" fill="url(#dt)"/>
<polygon class="o" points="4608,1880 4634,1864 4634,2311 4608,2295" fill="#e69a2a"/>
<rect class="o" x="4634" y="1823" width="42" height="529" fill="#cc4848"/>
<g class="o" fill="#c8c8c8">
<path d="M3795,1980 L3795,1912 Q3795,1904 3803,1904 L3846,1904 Q3854,1904 3854,1912 L3854,1980 L3909,1980 L3909,2205 L3688,2205 Q3680,2150 3688,2090 Q3695,2040 3685,1980 Z"/>
<rect x="3909" y="2008" width="23" height="168"/>
</g>
<polygon class="o" fill="#8c9fd6" points="3932,1988 3975,1988 3980,1978 4050,1978 4062,1998 4062,2185 4050,2205 3980,2205 3975,2195 3932,2195"/>
<polygon class="o" fill="#8c9fd6" points="4021,2008 4160,2008 4179,2030 4179,2150 4160,2170 4021,2170"/>
<path class="t" fill="none" d="M3936,2000 l6,-10 l6,10 l6,-10 l6,10 l6,-10 l6,10 l6,-10 l6,10 M3936,2184 l6,-10 l6,10 l6,-10 l6,10 l6,-10 l6,10 l6,-10 l6,10"/>
<rect class="t" x="4021" y="2031" width="158" height="12" fill="#bde3f5"/>
<rect class="t" x="3685" y="2132" width="494" height="13" fill="#bde3f5"/>
<polygon class="t" fill="#fff27a" points="3685,2082 3830,2082 4179,2057 4179,2121 3830,2097 3685,2097"/>
<rect class="t" x="3815" y="1904" width="17" height="204" fill="#fff27a"/>
<path class="ln" stroke-width="1.5" d="M3858,1795 L3822,1795 L3822,1899" marker-end="url(#a)"/>
<path class="ln" stroke-width="1.5" d="M4078,1913 L4113,1913 L4113,2006" marker-end="url(#a)"/>
<path class="ln" stroke-width="1.5" d="M4250,1915 L4224,1915 L4224,2014" marker-end="url(#a)"/>
<path class="ln" d="M4574,1845 L4630,1845" marker-end="url(#a)"/>
<path class="ln" d="M4570,1911 L4605,1911" marker-end="url(#a)"/>
<path class="ln" d="M3630,2093 L3680,2093" marker-end="url(#a)"/>
<path class="ln" d="M3630,2142 L3680,2142" marker-end="url(#a)"/>
<text class="l" x="4364" y="1762" textLength="99" lengthAdjust="spacingAndGlyphs">100～250mm</text>
<text class="l" x="3863" y="1804" textLength="153" lengthAdjust="spacingAndGlyphs">Powder materials</text>
<text class="l" x="3863" y="1834" textLength="227" lengthAdjust="spacingAndGlyphs">(metal, ceramics, plastics)</text>
<text class="l" x="4484" y="1854" textLength="85" lengthAdjust="spacingAndGlyphs">Substrate</text>
<text class="l" x="4504" y="1920" textLength="63" lengthAdjust="spacingAndGlyphs">Coating</text>
<text class="l" x="4017" y="1922" textLength="56" lengthAdjust="spacingAndGlyphs">Nozzle</text>
<text class="l" x="4254" y="1924" textLength="141" lengthAdjust="spacingAndGlyphs">Combustion gas</text>
<text class="l" x="3479" y="2071" textLength="144" lengthAdjust="spacingAndGlyphs">Powder material</text>
<text class="l" x="3530" y="2102" textLength="93" lengthAdjust="spacingAndGlyphs">carrier gas</text>
<text class="l" x="3470" y="2151" textLength="153" lengthAdjust="spacingAndGlyphs">Oxygen –fuel gas</text>

<!-- ================= HVOF DIAMOND ================= -->
<rect x="1084" y="2512" width="23" height="26" fill="#c0954b"/>
<text x="1113" y="2538" style="font-size:35px" textLength="247" lengthAdjust="spacingAndGlyphs">Diamond Spraying</text>
<rect x="1084" y="2919" width="23" height="23" fill="#c0954b"/>
<text x="1113" y="2942" style="font-size:35px" textLength="118" lengthAdjust="spacingAndGlyphs">JP-5000</text>
<polygon points="1753,2740 2175,2677 2175,2792" fill="url(#gDia)"/>
<polygon points="1760,2740 2175,2680 2175,2790" fill="url(#dt)"/>
<polygon class="o" points="2175,2600 2187,2585 2187,2876 2175,2860" fill="#e69a2a"/>
<rect class="o" x="2187" y="2550" width="17" height="363" fill="#cc4848"/>
<g class="o" fill="#c8c8c8">
<polygon points="1522,2632 1560,2632 1577,2648 1577,2660 1702,2660 1714,2672 1714,2682 1698,2682 1698,2672 1558,2672 1558,2643 1522,2643"/>
<polygon points="1522,2850 1560,2850 1577,2834 1577,2822 1702,2822 1714,2810 1714,2800 1698,2800 1698,2810 1558,2810 1558,2839 1522,2839"/>
</g>
<polygon fill="#86b4e2" points="1577,2693 1633,2693 1643,2682 1684,2682 1684,2673 1698,2673 1698,2682 1713,2682 1733,2720 1733,2762 1713,2797 1698,2797 1698,2808 1684,2808 1684,2797 1643,2797 1633,2786 1577,2786"/>
<polygon class="t" fill="#fff27a" points="1575,2699 1635,2699 1652,2711 1765,2718 1807,2716 1807,2765 1765,2758 1652,2768 1635,2779 1575,2779"/>
<rect class="t" x="1539" y="2703" width="40" height="72" fill="#c8c8c8"/>
<g class="t" fill="#c8c8c8"><polygon points="1579,2718 1605,2718 1665,2726 1665,2730 1579,2730"/><polygon points="1579,2752 1665,2752 1665,2756 1605,2764 1579,2764"/></g>
<g fill="#fff27a" class="t"><rect x="1539" y="2710" width="40" height="6"/><rect x="1539" y="2766" width="40" height="6"/></g>
<polygon class="t" fill="#a3bde3" points="1539,2735 1730,2735 1753,2741 1730,2748 1539,2748"/>
<path class="ln" stroke-width="1.5" d="M1452,2608 L1566,2699" marker-end="url(#a)"/>
<path class="ln" stroke-width="1.5" d="M1452,2642 L1537,2714" marker-end="url(#a)"/>
<path class="ln" stroke-width="1.5" d="M1452,2706 L1537,2728" marker-end="url(#a)"/>
<path class="ln" stroke-width="1.5" d="M1452,2741 L1536,2741" marker-end="url(#a)"/>
<path class="ln" stroke-width="1.5" d="M1452,2825 L1535,2775" marker-end="url(#a)"/>
<path class="ln" stroke-width="1.5" d="M1692,2630 L1675,2630 L1675,2688" marker-end="url(#a)"/>
<path class="ln" stroke-width="1.5" d="M1767,2807 L1753,2807 L1753,2748" marker-end="url(#a)"/>
<path class="ln" d="M2130,2567 L2184,2567" marker-end="url(#a)"/>
<path class="ln" d="M2130,2631 L2172,2631" marker-end="url(#a)"/>
<text class="l" x="2041" y="2576" textLength="83" lengthAdjust="spacingAndGlyphs">Substrate</text>
<text class="l" x="2061" y="2640" textLength="65" lengthAdjust="spacingAndGlyphs">Coating</text>
<text class="l" x="1295" y="2617" textLength="144" lengthAdjust="spacingAndGlyphs">Compression air</text>
<text class="l" x="1305" y="2651" textLength="134" lengthAdjust="spacingAndGlyphs">Propane gas or</text>
<text class="l" x="1318" y="2680" textLength="121" lengthAdjust="spacingAndGlyphs">Hydrogen gas</text>
<text class="l" x="1295" y="2715" textLength="144" lengthAdjust="spacingAndGlyphs">Compression air</text>
<text class="l" x="1295" y="2752" textLength="144" lengthAdjust="spacingAndGlyphs">Powder material</text>
<text class="l" x="1306" y="2783" textLength="133" lengthAdjust="spacingAndGlyphs">(cermet, metal)</text>
<text class="l" x="1381" y="2834" textLength="58" lengthAdjust="spacingAndGlyphs">Nozzle</text>
<text class="l" x="1697" y="2637" textLength="61" lengthAdjust="spacingAndGlyphs">Air cap</text>
<text class="l" x="1773" y="2815" textLength="248" lengthAdjust="spacingAndGlyphs">Material tip which is melting</text>

<!-- ================= JP-5000 ================= -->
<polygon points="1800,3116 2175,3047 2175,3254 1800,3185" fill="url(#gJPc)"/>
<polygon points="1800,3116 2175,3047 2175,3254 1800,3185" fill="url(#dt)"/>
<polygon class="o" points="2175,3020 2187,3002 2187,3302 2175,3285" fill="#e69a2a"/>
<rect class="o" x="2187" y="2970" width="17" height="363" fill="#cc4848"/>
<rect class="o" x="1465" y="3103" width="335" height="98" fill="#88b4e2"/>
<rect class="t" x="1787" y="3078" width="13" height="25" fill="#88b4e2"/>
<path class="o" fill="#88b4e2" d="M1248,3049 L1267,3049 L1267,3078 C1340,3076 1390,3090 1412,3112 C1425,3104 1440,3103 1470,3103 L1470,3201 C1440,3201 1425,3196 1412,3179 C1390,3212 1340,3226 1267,3226 L1248,3226 Z"/>
<path class="t" fill="url(#gJPb)" d="M1267,3090 C1340,3090 1385,3100 1412,3130 C1425,3120 1440,3116 1480,3116 L1800,3116 L1800,3185 L1480,3185 C1440,3185 1425,3178 1412,3164 C1385,3200 1340,3213 1267,3213 Z"/>
<rect x="1490" y="3118" width="310" height="65" fill="url(#dt)"/>
<path class="t" fill="none" d="M1465,3076 L1465,3226 M1481,3076 L1481,3226"/>
<rect class="t" x="1224" y="3107" width="43" height="12" fill="#eee"/>
<rect class="t" x="1224" y="3182" width="43" height="12" fill="#eee"/>
<polygon class="t" fill="#ffe600" points="1204,3150 1255,3135 1267,3135 1267,3165 1255,3165"/>
<path class="ln" d="M1170,3113 L1220,3113" marker-end="url(#a)"/>
<path class="ln" d="M1170,3191 L1220,3191" marker-end="url(#a)"/>
<path class="ln" d="M1258,3008 L1258,3045" marker-end="url(#a)"/>
<path class="ln" d="M1474,3038 L1474,3072" marker-end="url(#a)"/>
<path class="ln" d="M1796,3076 L1796,3040" marker-end="url(#a)"/>
<path class="ln" stroke-width="1.5" d="M1500,3262 L1474,3262 L1474,3230" marker-end="url(#a)"/>
<path class="ln" d="M2130,2988 L2184,2988" marker-end="url(#a)"/>
<path class="ln" d="M2130,3032 L2172,3032" marker-end="url(#a)"/>
<text class="l" x="2041" y="2997" textLength="83" lengthAdjust="spacingAndGlyphs">Substrate</text>
<text class="l" x="2061" y="3041" textLength="65" lengthAdjust="spacingAndGlyphs">Coating</text>
<text class="l" x="1200" y="2998" textLength="119" lengthAdjust="spacingAndGlyphs">Cooling water</text>
<text class="l" x="1402" y="2998" textLength="144" lengthAdjust="spacingAndGlyphs">Powder material</text>
<text class="l" x="1408" y="3029" textLength="134" lengthAdjust="spacingAndGlyphs">(cermet, metal)</text>
<text class="l" x="1736" y="3029" textLength="120" lengthAdjust="spacingAndGlyphs">Cooling water</text>
<text class="l" x="1073" y="3122" textLength="91" lengthAdjust="spacingAndGlyphs">Liquid fuel</text>
<text class="l" x="1093" y="3159" textLength="91" lengthAdjust="spacingAndGlyphs">Spark plug</text>
<text class="l" x="1100" y="3200" textLength="64" lengthAdjust="spacingAndGlyphs">Oxygen</text>
<text class="l" x="1505" y="3271" textLength="284" lengthAdjust="spacingAndGlyphs">Powder material (cermet, metal)</text>

<!-- ================= FLAME WIRE ================= -->
<path class="dm" d="M4162,2591 L4162,2843 M4635,2591 L4635,2648"/>
<path d="M4162,2599 L4635,2599" stroke="#231815" stroke-width="2.5"/>
<circle cx="4162" cy="2599" r="5" fill="#231815"/><circle cx="4635" cy="2599" r="5" fill="#231815"/>
<polygon points="4257,2937 4610,2817 4610,3053" fill="url(#gWR)"/>
<polygon points="4265,2937 4610,2820 4610,3050" fill="url(#dt)"/>
<polygon points="4257,2926 4420,2866 4420,2882 4257,2937" fill="url(#gPale)"/>
<polygon points="4257,2948 4420,3005 4420,2991 4257,2937" fill="url(#gPale)"/>
<polygon class="o" points="4610,2720 4635,2704 4635,3173 4610,3157" fill="#e69a2a"/>
<rect class="o" x="4635" y="2663" width="44" height="549" fill="#cc4848"/>
<g class="o" fill="#c8c8c8">
<polygon points="3791,2736 4059,2835 4059,2866 4028,2866 4028,2851 3857,2790 3857,2776 3791,2770"/>
<polygon points="3791,3140 4059,3041 4059,3010 4028,3010 4028,3025 3857,3086 3857,3100 3791,3106"/>
<rect x="3632" y="2728" width="60" height="14"/><rect x="3692" y="2700" width="99" height="92"/>
<rect x="3632" y="3134" width="60" height="14"/><rect x="3692" y="3084" width="99" height="92"/>
</g>
<path class="t" fill="none" d="M3692,2724 L3791,2724 M3692,2747 L3791,2747 M3692,2769 L3791,2769 M3692,3107 L3791,3107 M3692,3129 L3791,3129 M3692,3152 L3791,3152"/>
<polygon class="o" fill="#a8daf4" points="3911,2873 3999,2873 3999,2853 4062,2853 4162,2889 4162,2987 4062,3023 3999,3023 3999,3003 3911,3003"/>
<rect class="t" x="4028" y="2855" width="31" height="9" fill="#fff"/><rect class="t" x="4028" y="3012" width="31" height="9" fill="#fff"/>
<path class="t" fill="url(#gWY)" d="M3905,2891 L3999,2891 L4062,2905 L4162,2905 C4200,2905 4228,2914 4257,2926 L4257,2948 C4228,2960 4200,2973 4162,2973 L4062,2973 L3999,2985 L3905,2985 Z"/>
<path d="M4162,2905 C4200,2905 4228,2914 4257,2926 L4420,2866 M4162,2973 C4200,2973 4228,2960 4257,2948 L4420,3005" fill="none" stroke="#231815" stroke-width="2.5"/>
<path class="t" fill="none" d="M4062,2920 L4162,2920 C4210,2922 4240,2932 4257,2937 M4062,2956 L4162,2956 C4210,2954 4240,2942 4257,2937"/>
<g class="t" fill="#c8c8c8">
<polygon points="3891,2896 3990,2896 4059,2912 4059,2918 3891,2912"/><rect x="3891" y="2918" width="168" height="9"/>
<rect x="3891" y="2948" width="168" height="9"/><polygon points="3891,2963 4059,2957 4059,2963 3990,2979 3891,2979"/>
</g>
<polygon class="t" fill="#8c9fd6" points="3808,2928 4205,2928 4257,2937 4205,2946 3808,2946"/>
<path class="ln" stroke-width="1.5" d="M3720,2827 L3745,2827 L3890,2886" marker-end="url(#a)"/>
<path class="ln" stroke-width="1.5" d="M3722,2885 L3810,2885 L3885,2913" marker-end="url(#a)"/>
<path class="ln" d="M3722,2939 L3802,2939" marker-end="url(#a)"/>
<path class="ln" stroke-width="1.5" d="M3720,3011 L3745,3011 L3885,2965" marker-end="url(#a)"/>
<path class="ln" stroke-width="1.5" d="M3720,3054 L3745,3054 L3911,2998" marker-end="url(#a)"/>
<path class="ln" stroke-width="1.5" d="M4310,2723 L4234,2723 L4234,2905" marker-end="url(#a)"/>
<path class="ln" stroke-width="1.5" d="M4214,3052 L4178,3052 L4178,2948" marker-end="url(#a)"/>
<path class="ln" stroke-width="1.5" d="M4056,3116 L4090,3116 L4090,3020" marker-end="url(#a)"/>
<path class="ln" stroke-width="1.5" d="M4458,3116 L4494,3116 L4494,3020" marker-end="url(#a)"/>
<path class="ln" d="M4574,2682 L4632,2682" marker-end="url(#a)"/>
<path class="ln" d="M4568,2798 L4608,2798" marker-end="url(#a)"/>
<text class="l" x="4380" y="2593" textLength="98" lengthAdjust="spacingAndGlyphs">100～250mm</text>
<text class="l" x="4484" y="2691" textLength="85" lengthAdjust="spacingAndGlyphs">Substrate</text>
<text class="l" x="4316" y="2732" textLength="100" lengthAdjust="spacingAndGlyphs">Material tip</text>
<text class="l" x="4316" y="2763" textLength="144" lengthAdjust="spacingAndGlyphs">which is melting</text>
<text class="l" x="4494" y="2807" textLength="69" lengthAdjust="spacingAndGlyphs">Coating</text>
<text class="l" x="3577" y="2836" textLength="138" lengthAdjust="spacingAndGlyphs">Compressed air</text>
<text class="l" x="3555" y="2882" textLength="162" lengthAdjust="spacingAndGlyphs">Oxy-acetylene gas</text>
<text class="l" x="3567" y="2911" textLength="150" lengthAdjust="spacingAndGlyphs">Oxy-propane gas</text>
<text class="l" x="3637" y="2948" textLength="80" lengthAdjust="spacingAndGlyphs">Materials</text>
<text class="l" x="3582" y="2981" textLength="135" lengthAdjust="spacingAndGlyphs">(wire, rod, tube)</text>
<text class="l" x="3662" y="3020" textLength="55" lengthAdjust="spacingAndGlyphs">Nozzle</text>
<text class="l" x="3655" y="3063" textLength="62" lengthAdjust="spacingAndGlyphs">Air cap</text>
<text class="l" x="4220" y="3061" textLength="141" lengthAdjust="spacingAndGlyphs">Combustion gas</text>
<text class="l" x="3959" y="3125" textLength="92" lengthAdjust="spacingAndGlyphs">Air current</text>
<text class="l" x="4275" y="3125" textLength="178" lengthAdjust="spacingAndGlyphs">Minute molten metal</text>

<!-- PAGE NUMBERS -->
<text x="109" y="3392" style="font-size:34px" textLength="38" lengthAdjust="spacingAndGlyphs">13</text>
<text x="4810" y="3392" style="font-size:34px" textLength="40" lengthAdjust="spacingAndGlyphs">14</text>
</svg>
</body></html>
